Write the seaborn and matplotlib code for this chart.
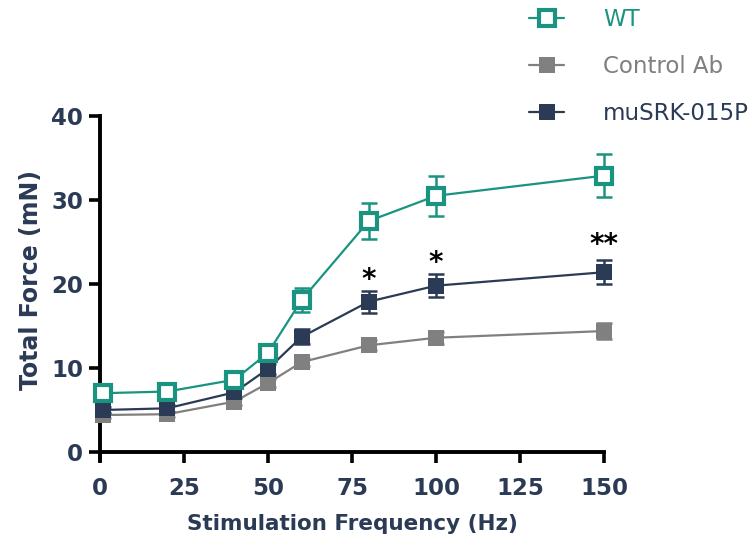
import matplotlib
matplotlib.use('Agg')
import matplotlib.pyplot as plt
import seaborn as sns
import pandas as pd

# datos
freq = [1, 20, 40, 50, 60, 80, 100, 150]
wt = [7.0, 7.2, 8.6, 11.8, 18.1, 27.5, 30.5, 32.9]
wt_err = [0.5, 0.5, 0.6, 0.8, 1.4, 2.2, 2.4, 2.6]
ctrl = [4.4, 4.5, 6.0, 8.2, 10.7, 12.7, 13.6, 14.4]
ctrl_err = [0.3, 0.3, 0.4, 0.5, 0.5, 0.6, 0.7, 1.0]
musrk = [5.0, 5.2, 7.1, 9.9, 13.7, 17.9, 19.8, 21.4]
musrk_err = [0.4, 0.4, 0.5, 0.6, 0.9, 1.3, 1.4, 1.45]
groups = ['WT', 'Control Ab', 'muSRK-015P']
stars_x = [80, 100, 150]
stars_y = [20.5, 22.5, 24.6]
stars_txt = ['*', '*', '**']

df = pd.concat([
    pd.DataFrame({'Hz': freq, 'Force': wt, 'err': wt_err, 'Grupo': groups[0]}),
    pd.DataFrame({'Hz': freq, 'Force': ctrl, 'err': ctrl_err, 'Grupo': groups[1]}),
    pd.DataFrame({'Hz': freq, 'Force': musrk, 'err': musrk_err, 'Grupo': groups[2]}),
])

sns.set_theme(style='ticks')
plt.rcParams['font.family'] = ['DejaVu Sans']

colors = {'WT': '#1a9480', 'Control Ab': '#808080', 'muSRK-015P': '#2b3a55'}
navy = '#2b3a55'

fig = plt.figure(figsize=(7.56, 5.41), dpi=100)
ax = fig.add_axes([0.1323, 0.149, 0.6667, 0.6366])

order = ['Control Ab', 'muSRK-015P', 'WT']
for g in order:
    sub = df[df['Grupo'] == g]
    c = colors[g]
    face = 'white' if g == 'WT' else c
    ax.errorbar(sub['Hz'], sub['Force'], yerr=sub['err'], fmt='none', ecolor=c,
                elinewidth=1.8, capsize=6, capthick=1.8, clip_on=False, zorder=2)
    sns.lineplot(data=sub, x='Hz', y='Force', color=c, marker='s', markersize=11.5,
                 markerfacecolor=face, markeredgecolor=c, markeredgewidth=3.0 if g == 'WT' else 0,
                 linewidth=1.6, ax=ax, label=g, clip_on=False, zorder=3)

for x, y, t in zip(stars_x, stars_y, stars_txt):
    ax.text(x, y, t, ha='center', va='center', fontsize=20, fontweight='bold', color='black')

ax.set_xlim(0, 150)
ax.set_ylim(-1, 40)
ax.set_xticks([0, 25, 50, 75, 100, 125, 150])
ax.set_yticks([0, 10, 20, 30, 40])
ax.spines['bottom'].set_position(('data', 0))
ax.spines['top'].set_visible(False)
ax.spines['right'].set_visible(False)
ax.spines['left'].set_bounds(-1, 40)
for s in ['left', 'bottom']:
    ax.spines[s].set_linewidth(2.8)
    ax.spines[s].set_color('black')
ax.tick_params(axis='both', length=8, width=2.6, color='black', labelsize=16.5,
               labelcolor=navy)
ax.tick_params(axis='x', pad=10)
ax.tick_params(axis='y', pad=4)
for lab in ax.get_xticklabels() + ax.get_yticklabels():
    lab.set_fontweight('bold')

ax.set_xlabel('Stimulation Frequency (Hz)', fontsize=15.5, fontweight='bold', color=navy, labelpad=10)
ax.set_ylabel('Total Force (mN)', fontsize=17, fontweight='bold', color=navy)
ax.yaxis.set_label_coords(-0.113, 0.523)

handles, labels = ax.get_legend_handles_labels()
hmap = dict(zip(labels, handles))
ax.legend_.remove()
leg = fig.legend([hmap[g] for g in groups], groups, loc='upper left',
                 bbox_to_anchor=(0.673, 1.024), frameon=False, fontsize=16.5,
                 handlelength=1.5, labelspacing=1.05, handletextpad=1.7)
for txt, g in zip(leg.get_texts(), groups):
    txt.set_color(colors[g])

fig.savefig('out.png', dpi=100)
